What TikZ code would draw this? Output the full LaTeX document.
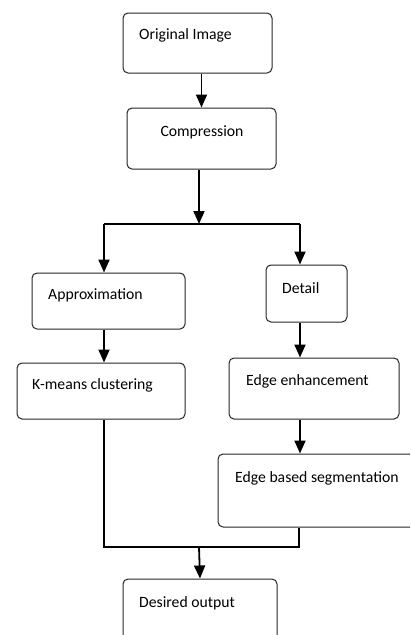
\documentclass[tikz,border=0pt]{standalone}
\usepackage{fontspec}
\setmainfont{Carlito}
\usetikzlibrary{arrows.meta}
\begin{document}
\begin{tikzpicture}[x=1pt,y=-1pt,
  box/.style={draw=black!85, line width=1pt, rounded corners=5pt, inner sep=0pt},
  lbl/.style={inner sep=0pt, font=\fontsize{15.7}{18}\selectfont},
  conn/.style={draw=black, line width=1.8pt},
  arr/.style={conn, -{Triangle[length=13pt,width=11pt]}}]
\clip (0,0) rectangle (410,635);
\fill[white] (0,0) rectangle (410,635);
% boxes
\node[box, minimum width=149pt, minimum height=60pt] (orig) at (197.5,43) {};
\node[box, minimum width=149pt, minimum height=61pt] (comp) at (201.5,138.5) {};
\node[box, minimum width=153pt, minimum height=56pt] (approx) at (108.5,301) {};
\node[box, minimum width=81pt, minimum height=57pt] (detail) at (306.5,293.5) {};
\node[box, minimum width=168pt, minimum height=56pt] (kmeans) at (101,391) {};
\node[box, minimum width=170pt, minimum height=61pt] (edgeenh) at (314,388.5) {};
\node[box, minimum width=202pt, minimum height=73pt] (edgeseg) at (319,490.5) {};
\node[box, minimum width=154pt, minimum height=62pt] (desired) at (200,610) {};
% texts
\node[lbl, anchor=west] (origt) at (139,35) {Original Image};
\node[lbl] (compt) at (202,132) {Compression};
\node[lbl, anchor=west] (approxt) at (48,295) {Approximation};
\node[lbl, anchor=west] (detailt) at (282,288) {Detail};
\node[lbl, anchor=west] (kmeanst) at (32,385) {K-means clustering};
\node[lbl, anchor=west] (edgeenht) at (246,381) {Edge enhancement};
\node[lbl, anchor=west] (edgesegt) at (235,478) {Edge based segmentation};
\node[lbl, anchor=west] (desiredt) at (139,603) {Desired output};
% junction coordinates
\coordinate (j1) at (199,224);
\coordinate (jl) at (104,224);
\coordinate (jr) at (300,224);
\coordinate (bl) at (104,547);
\coordinate (br) at (299,547);
\coordinate (jb) at (199,547);
% connectors
\draw[arr] (comp.north |- orig.south) -- (comp.north);
\draw[arr] (j1 |- comp.south) -- (j1);
\draw[conn] (jl) -- (jr);
\draw[arr] (jl) -- (jl |- approx.north);
\draw[arr] (jr) -- (jr |- detail.north);
\draw[arr] (jl |- approx.south) -- (jl |- kmeans.north);
\draw[arr] (jr |- detail.south) -- (jr |- edgeenh.north);
\draw[arr] (jr |- edgeenh.south) -- (jr |- edgeseg.north);
\draw[conn] (bl |- kmeans.south) -- (bl) -- (br) -- (br |- edgeseg.south);
\draw[arr] (jb) -- (desired.north);
\end{tikzpicture}
\end{document}
